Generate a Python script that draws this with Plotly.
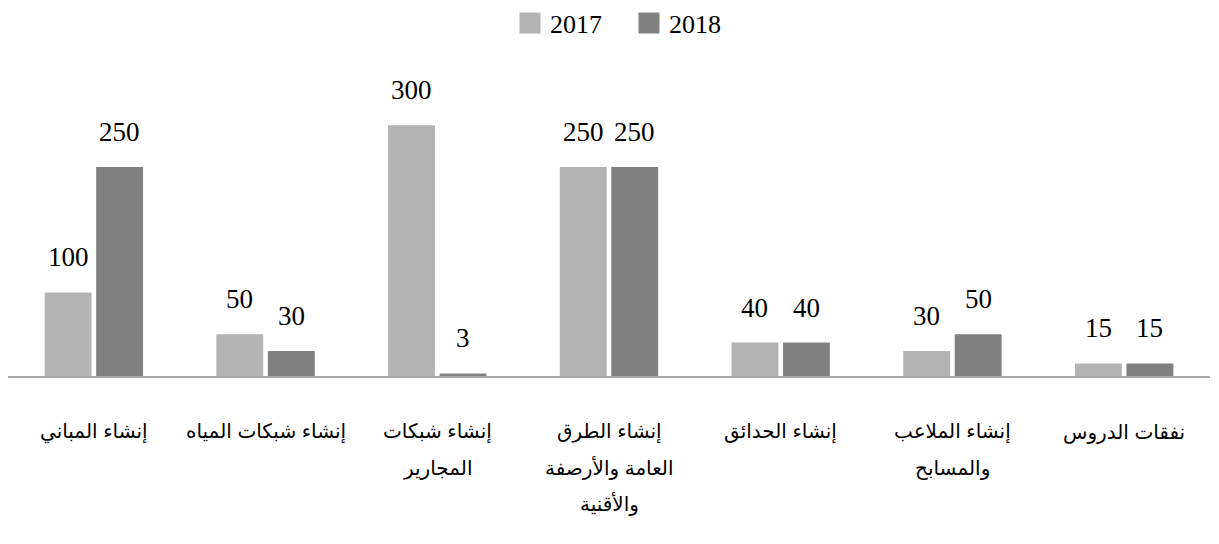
import plotly.graph_objects as go

# ---- data ----
categories = [
    ["إنشاء المباني"],
    ["إنشاء شبكات المياه"],
    ["إنشاء شبكات", "المجارير"],
    ["إنشاء الطرق", "العامة والأرصفة", "والأقنية"],
    ["إنشاء الحدائق"],
    ["إنشاء الملاعب", "والمسابح"],
    ["نفقات الدروس"],
]
values_2017 = [100, 50, 300, 250, 40, 30, 15]
values_2018 = [250, 30, 3, 250, 40, 50, 15]
series_names = ["2017", "2018"]

# ---- style ----
colors = ["#b3b3b3", "#808080"]
num_font = dict(family="Liberation Serif", size=27, color="#000000")
ar_font = dict(family="Liberation Sans, DejaVu Sans, sans-serif", size=20, color="#000000")
bargap = 0.4
bargroupgap = 0.09

xs = list(range(len(categories)))
fig = go.Figure()
for name, vals, col in zip(series_names, [values_2017, values_2018], colors):
    fig.add_trace(go.Bar(x=xs, y=vals, name=name, showlegend=False,
                         marker=dict(color=col, line=dict(width=0))))
# legend entries with larger square swatches
for name, col in zip(series_names, colors):
    fig.add_trace(go.Scatter(x=[None], y=[None], mode="markers", name=name,
                             marker=dict(symbol="square", size=16, color=col,
                                         line=dict(width=5, color=col))))

annotations = []
slot = (1 - bargap) / 2
for k, vals in enumerate([values_2017, values_2018]):
    off = -slot / 2 if k == 0 else slot / 2
    for i, v in enumerate(vals):
        annotations.append(dict(x=i + off, y=v, xref="x", yref="y", text=str(v),
                                showarrow=False, yanchor="bottom", yshift=18, font=num_font))

for i, lines in enumerate(categories):
    for j, line in enumerate(lines):
        annotations.append(dict(x=i, y=0, xref="x", yref="paper", text=line, showarrow=False,
                                yanchor="middle", yshift=-56 - 36 * j, font=ar_font))

# page body has an 8px margin: figure is sized to fit the 1219x544 window
fig.update_layout(
    width=1211, height=536,
    margin=dict(l=0, r=9, t=52, b=168, autoexpand=False),
    paper_bgcolor="white", plot_bgcolor="white",
    barmode="group", bargap=bargap, bargroupgap=bargroupgap,
    showlegend=True,
    legend=dict(orientation="h", x=0.5 + 20 / 1202, xanchor="center", y=1 + 37 / 316,
                yanchor="middle",
                font=dict(family="Liberation Serif", size=26, color="#000000"),
                itemwidth=30, entrywidth=74, traceorder="normal", bgcolor="rgba(0,0,0,0)",
                borderwidth=0),
    xaxis=dict(range=[-0.5, 6.5], showticklabels=False, ticks="", showgrid=False,
               zeroline=False, showline=True, linecolor="#a6a6a6", linewidth=1.5),
    yaxis=dict(range=[0, 378], visible=False, showgrid=False, zeroline=False),
    annotations=annotations,
)

fig.write_html("out.html")
